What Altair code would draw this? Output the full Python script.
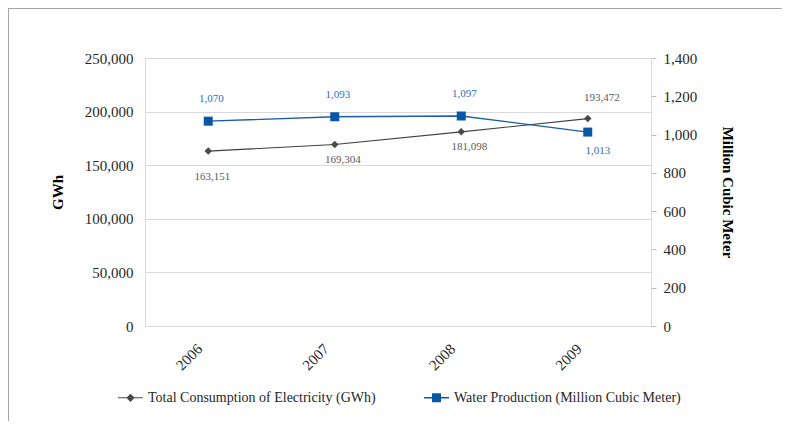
import altair as alt
import pandas as pd

# ---- data ----
years = ["2006", "2007", "2008", "2009"]
electricity = [163151, 169304, 181098, 193472]
water = [1070, 1093, 1097, 1013]
series_names = ["Total Consumption of Electricity (GWh)",
                "Water Production (Million Cubic Meter)"]
elec_label_place = ["below_far", "below", "below", "above"]
water_label_place = ["above", "above", "above", "below"]
elec_ticks = [0, 50000, 100000, 150000, 200000, 250000]
water_ticks = [0, 200, 400, 600, 800, 1000, 1200, 1400]

FONT = "Liberation Serif"
GRAY_LINE = "#404040"
GRAY_MARK = "#4a4a4a"
GRAY_TEXT = "#595959"
BLUE_LINE = "#1a5ca8"
BLUE_MARK = "#0a56a5"
BLUE_TEXT = "#2a6ebb"
TXT = "#262626"

elec_df = pd.DataFrame({"year": years, "value": electricity, "place": elec_label_place})
water_df = pd.DataFrame({"year": years, "value": water, "place": water_label_place})
legend_df = pd.DataFrame({"series": series_names})

x_enc = alt.X("year:O",
              scale=alt.Scale(type="point", padding=0.5),
              axis=alt.Axis(title=None, labelAngle=-45, labelAlign="right",
                            labelBaseline="middle", labelPadding=20, labelOffset=-9,
                            domain=False, ticks=False, grid=False))

y_elec = alt.Y("value:Q",
               scale=alt.Scale(domain=[0, 250000], nice=False),
               axis=alt.Axis(orient="left", values=elec_ticks, format=",.0f",
                             title="GWh", titleAngle=-90, titleX=-88, titleY=134,
                             titleAlign="center", titleBaseline="middle",
                             titleFontWeight="bold", titleFontSize=15,
                             domain=False, ticks=False, grid=True,
                             gridColor="#d9d9d9", labelPadding=12))

y_water = alt.Y("value:Q",
                scale=alt.Scale(domain=[0, 1400], nice=False),
                axis=alt.Axis(orient="right", values=water_ticks, format=",.0f",
                              title="Million Cubic Meter", titleAngle=90,
                              titleX=76, titleY=134, titleAlign="center",
                              titleBaseline="middle", titleFontWeight="bold",
                              titleFontSize=15, grid=False, domain=True,
                              domainColor="#d9d9d9", ticks=True,
                              tickColor="#bfbfbf", tickSize=5, labelPadding=7))

# electricity layers
e_line = alt.Chart(elec_df).mark_line(color=GRAY_LINE, strokeWidth=1.1).encode(x=x_enc, y=y_elec)
e_pts = alt.Chart(elec_df).mark_point(shape="diamond", filled=True, size=56,
                                      color=GRAY_MARK, opacity=1).encode(x=x_enc, y=y_elec)
elec_offsets = {"below_far": (4, 26), "below": (8, 15), "above": (14, -21)}
e_texts = [
    alt.Chart(elec_df).transform_filter(alt.datum.place == p)
    .mark_text(dx=dx, dy=dy, font=FONT, fontSize=11, color=GRAY_TEXT,
               align="center", baseline="middle")
    .encode(x=x_enc, y=y_elec, text=alt.Text("value:Q", format=","))
    for p, (dx, dy) in elec_offsets.items()
]
elec_layer = alt.layer(e_line, e_pts, *e_texts)

# water layers
w_line = alt.Chart(water_df).mark_line(color=BLUE_LINE, strokeWidth=1.3).encode(x=x_enc, y=y_water)
w_pts = alt.Chart(water_df).mark_point(shape="square", filled=True, size=81,
                                       color=BLUE_MARK, opacity=1).encode(x=x_enc, y=y_water)
water_offsets = {"above": (3, -22), "below": (10, 19)}
w_texts = [
    alt.Chart(water_df).transform_filter(alt.datum.place == p)
    .mark_text(dx=dx, dy=dy, font=FONT, fontSize=11, color=BLUE_TEXT,
               align="center", baseline="middle")
    .encode(x=x_enc, y=y_water, text=alt.Text("value:Q", format=","))
    for p, (dx, dy) in water_offsets.items()
]
water_layer = alt.layer(w_line, w_pts, *w_texts)

# legend (symbols = line segment + marker)
path_e = "M-1,-0.045H1V0.045H-1Z M0,-0.33L0.33,0L0,0.33L-0.33,0Z"
path_w = "M-1,-0.055H1V0.055H-1Z M-0.36,-0.36H0.36V0.36H-0.36Z"
leg = alt.Legend(title=None, orient="none", legendX=-27, legendY=327,
                 direction="horizontal", columns=2, symbolSize=625,
                 labelFont=FONT, labelFontSize=14, labelColor=TXT,
                 labelOffset=5, columnPadding=48, padding=0,
                 symbolStrokeWidth=0, labelLimit=400)
legend_layer = alt.Chart(legend_df).mark_point(filled=True, clip=True, size=625,
                                               opacity=1).encode(
    x=alt.value(-3000), y=alt.value(-3000),
    color=alt.Color("series:N", scale=alt.Scale(domain=series_names,
                                                range=[GRAY_MARK, BLUE_MARK]), legend=leg),
    shape=alt.Shape("series:N", scale=alt.Scale(domain=series_names,
                                                range=[path_e, path_w]), legend=leg),
)

# outer frame
frame_left = alt.Chart(legend_df).mark_rule(color="#a6a6a6", strokeWidth=2).encode(
    x=alt.value(-137), y=alt.value(-51), y2=alt.value(420))
frame_top = alt.Chart(legend_df).mark_rule(color="#a6a6a6", strokeWidth=2).encode(
    x=alt.value(-137), x2=alt.value(650), y=alt.value(-50))

chart = alt.layer(elec_layer, water_layer, legend_layer, frame_left, frame_top).resolve_scale(
    y="independent"
).properties(
    width=506, height=268,
    background="white",
    autosize=alt.AutoSizeParams(type="none"),
    padding={"left": 137, "top": 50, "right": 131, "bottom": 95},
).configure_view(
    stroke="#d9d9d9", strokeWidth=1
).configure_axis(
    labelFont=FONT, labelFontSize=15, labelColor=TXT,
    titleFont=FONT, titleColor="#000000"
)

chart.save("out.html", embed_options={"renderer": "svg", "actions": False})
